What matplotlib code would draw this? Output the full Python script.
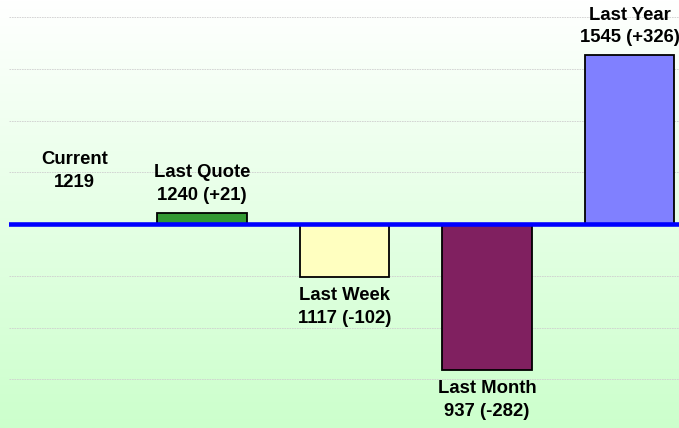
import numpy as np
import matplotlib
matplotlib.use("Agg")
import matplotlib.pyplot as plt
from matplotlib.colors import LinearSegmentedColormap

categories = ["Current", "Last Quote", "Last Week", "Last Month", "Last Year"]
values = [1219, 1240, 1117, 937, 1545]
bar_colors = ["#FFFFFF", "#339933", "#FFFFC0", "#802060", "#8080FF"]

W, H = 679, 428
fig = plt.figure(figsize=(W / 100, H / 100), dpi=100)

# gradient background
bg = fig.add_axes([0, 0, 1, 1])
cmap = LinearSegmentedColormap.from_list("g", ["#FFFFFF", "#CCFFCC"])
grad = np.linspace(0, 1, 256).reshape(-1, 1)
bg.imshow(grad, aspect="auto", cmap=cmap, extent=[0, 1, 0, 1], origin="upper")
bg.set_axis_off()

left = 9 / W
ax = fig.add_axes([left, 0, 1 - left, 1])
ax.patch.set_alpha(0)
for s in ax.spines.values():
    s.set_visible(False)

current = values[0]
diffs = [v - current for v in values]
x = np.arange(len(categories))

ax.set_xlim(-0.354, 4.347)
ax.set_ylim(-394, 433)
ax.set_yticks([-300, -200, -100, 100, 200, 300, 400])
ax.set_xticks([])
ax.tick_params(axis="y", length=0, labelleft=False)
ax.yaxis.grid(True, color="#CFCFCF", linestyle=(0, (2, 1)), linewidth=0.6)
ax.set_axisbelow(True)

ax.bar(x[1:], diffs[1:], width=0.625, color=bar_colors[1:], edgecolor="black",
       linewidth=1.3, zorder=2)
ax.axhline(0, color="#0000FF", linewidth=3.3, zorder=3)

font = dict(family="Liberation Sans", fontweight="bold", fontsize=13.3, color="black",
            linespacing=1.45)
for i, (cat, val, d) in enumerate(zip(categories, values, diffs)):
    if i == 0:
        ax.annotate(f"{cat}\n{val}", (x[i], 0), xytext=(15, 53), textcoords="offset pixels",
                    ha="center", va="center", **font)
    elif d >= 0:
        ax.annotate(f"{cat}\n{val} ({d:+d})", (x[i], d), xytext=(0, 9), textcoords="offset pixels",
                    ha="center", va="bottom", **font)
    else:
        ax.annotate(f"{cat}\n{val} ({d:+d})", (x[i], d), xytext=(0, -10), textcoords="offset pixels",
                    ha="center", va="top", **font)

fig.savefig("out.png", dpi=100)
